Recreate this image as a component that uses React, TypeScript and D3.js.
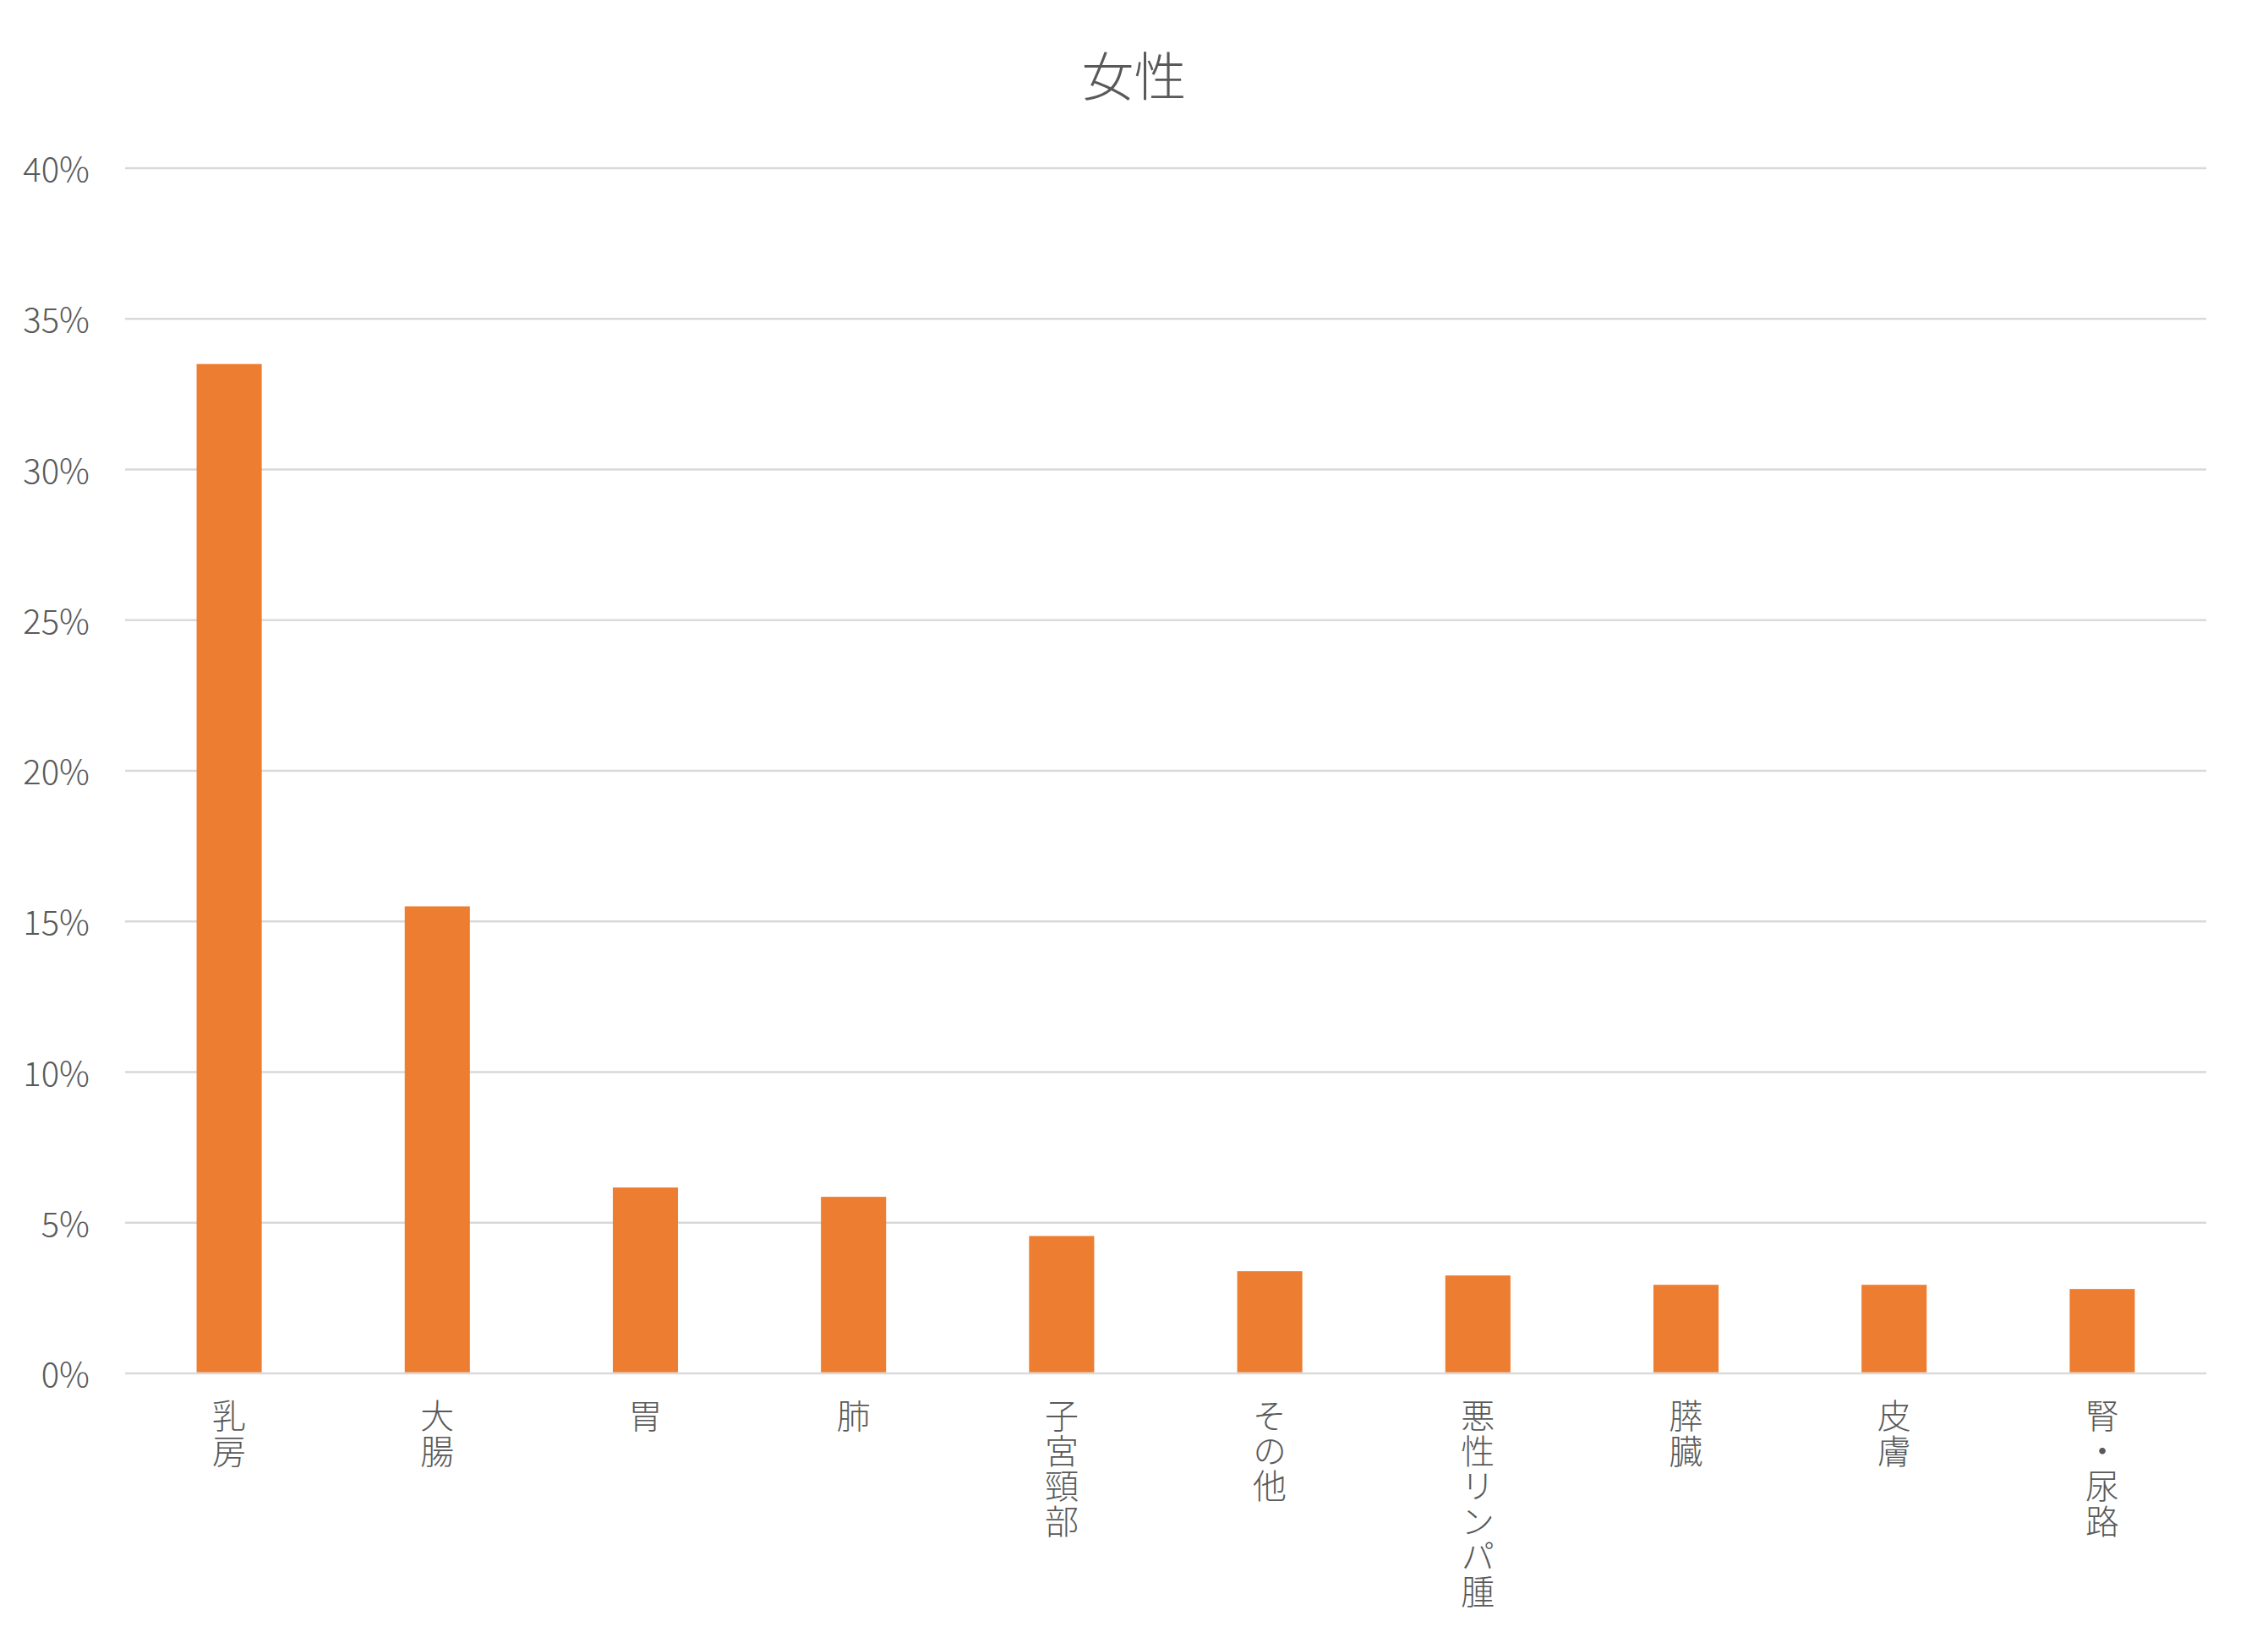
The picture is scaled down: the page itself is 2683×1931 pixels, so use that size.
import * as d3 from "d3";

const title = "女性";
const categories = ["乳房", "大腸", "胃", "肺", "子宮頸部", "その他", "悪性リンパ腫", "膵臓", "皮膚", "腎・尿路"];
const shares = [33.5, 15.5, 6.17, 5.86, 4.56, 3.39, 3.25, 2.94, 2.94, 2.8];
const yTicks = [0, 5, 10, 15, 20, 25, 30, 35, 40];

const FONT = "'Noto Sans CJK JP', 'Noto Sans', sans-serif";
const TEXT = "#595959";

export default function App() {
  const width = 2683;
  const height = 1931;
  const left = 148;
  const right = 2610;
  const top = 199;
  const bottom = 1625;

  const x = d3.scaleBand<string>().domain(categories).range([left, right]).paddingInner(0.687).paddingOuter(0.3435);
  const y = d3.scaleLinear().domain([0, 40]).range([bottom, top]);

  // vertical category labels start just under the axis
  const labelTop = 1655;

  return (
    <svg
      width={width}
      height={height}
      viewBox={`0 0 ${width} ${height}`}
      style={{ position: "absolute", left: 0, top: 0, background: "#fff" }}
      fontFamily={FONT}
      fontWeight={300}
    >
      <rect x={0} y={0} width={width} height={height} fill="#fff" />
      <text x={width / 2} y={87} textAnchor="middle" dominantBaseline="central" fontSize={62} fill={TEXT}>
        {title}
      </text>

      {yTicks.map((t) => (
        <g key={t}>
          <line x1={left} x2={right} y1={y(t)} y2={y(t)} stroke="#d9d9d9" strokeWidth={2.6} />
          <text x={106} y={y(t) - 1} textAnchor="end" dominantBaseline="central" fontSize={40} fill={TEXT}>
            {`${t}%`}
          </text>
        </g>
      ))}

      {categories.map((c, i) => (
        <rect
          key={c}
          x={x(c)}
          y={y(shares[i])}
          width={x.bandwidth()}
          height={y(0) - y(shares[i]) - 1.3}
          fill="#ed7d31"
        />
      ))}

      {categories.map((c) => {
        const cx = (x(c) ?? 0) + x.bandwidth() / 2;
        return (
          <text
            key={`lbl-${c}`}
            x={cx}
            y={labelTop}
            fontSize={40}
            fill={TEXT}
            letterSpacing={1.5}
            style={{ writingMode: "vertical-rl", textOrientation: "upright" }}
          >
            {c}
          </text>
        );
      })}
    </svg>
  );
}
